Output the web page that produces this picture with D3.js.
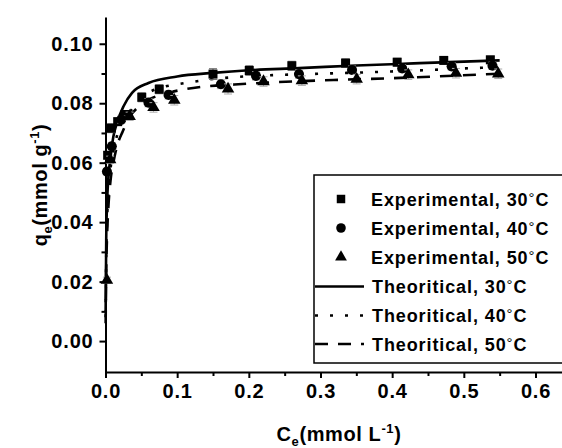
<!DOCTYPE html>
<html>
<head>
<meta charset="utf-8">
<script src="https://cdn.jsdelivr.net/npm/d3@7"></script>
<style>
  body { margin: 0; background: #fff; }
  svg { display: block; }
  text { font-family: "Liberation Sans", Arial, sans-serif; font-weight: bold; fill: #000; }
</style>
</head>
<body>
<script>
// experimental data (Ce in mmol/L, qe in mmol/g)
var exp30C = [0.003, 0.008, 0.017, 0.027, 0.0506, 0.075, 0.150, 0.2006, 0.260, 0.335, 0.407, 0.472, 0.537];
var exp30Q = [0.0625, 0.0716, 0.0738, 0.0762, 0.0820, 0.0847, 0.0898, 0.0910, 0.0926, 0.0935, 0.0938, 0.0944, 0.0946];
var exp30Err = [0.0012, 0.0015, 0.0012, 0.0012, 0.0015, 0.0015, 0.0018, 0.0016, 0.0015, 0.0014, 0.0013, 0.0012, 0.0012];

var exp40C = [0.002, 0.0088, 0.022, 0.060, 0.088, 0.161, 0.210, 0.270, 0.344, 0.414, 0.483, 0.540];
var exp40Q = [0.0570, 0.0655, 0.0745, 0.0802, 0.0828, 0.0864, 0.0892, 0.0898, 0.0912, 0.0917, 0.0924, 0.0926];
var exp40Err = [0.0010, 0.0012, 0.0012, 0.0014, 0.0014, 0.0015, 0.0014, 0.0014, 0.0013, 0.0013, 0.0012, 0.0012];

var exp50C = [0.002, 0.0065, 0.0337, 0.067, 0.096, 0.171, 0.2205, 0.274, 0.3505, 0.4225, 0.489, 0.548];
var exp50Q = [0.0205, 0.0610, 0.0756, 0.0786, 0.0810, 0.0848, 0.0873, 0.0876, 0.0881, 0.0896, 0.0901, 0.0899];
var exp50Err = [0.0010, 0.0012, 0.0014, 0.0016, 0.0016, 0.0017, 0.0016, 0.0016, 0.0016, 0.0016, 0.0016, 0.0016];

// theoretical curves
var th30C = [0.0002, 0.001, 0.002, 0.004, 0.0065, 0.011, 0.016, 0.025, 0.037, 0.06, 0.1, 0.15, 0.2, 0.27, 0.35, 0.43, 0.5, 0.55];
var th30Q = [0.010, 0.034, 0.045, 0.055, 0.061, 0.0688, 0.0734, 0.0789, 0.0835, 0.0868, 0.0890, 0.0902, 0.0911, 0.0918, 0.0927, 0.0934, 0.0940, 0.0944];

var th40C = [0.0002, 0.001, 0.002, 0.004, 0.007, 0.011, 0.016, 0.024, 0.034, 0.045, 0.06, 0.083, 0.104, 0.125, 0.141, 0.181, 0.297, 0.378, 0.453, 0.512, 0.55];
var th40Q = [0.008, 0.028, 0.039, 0.050, 0.058, 0.064, 0.069, 0.0735, 0.077, 0.0805, 0.0835, 0.0856, 0.0865, 0.0873, 0.0879, 0.0888, 0.0899, 0.0905, 0.0912, 0.0918, 0.0921];

var th50C = [0.0002, 0.001, 0.002, 0.004, 0.007, 0.011, 0.016, 0.024, 0.034, 0.047, 0.0645, 0.083, 0.1017, 0.134, 0.18, 0.232, 0.33, 0.397, 0.462, 0.527, 0.55];
var th50Q = [0.006, 0.024, 0.034, 0.045, 0.054, 0.060, 0.0655, 0.0705, 0.0755, 0.0790, 0.0817, 0.0832, 0.0843, 0.0855, 0.0863, 0.0870, 0.0879, 0.0884, 0.0890, 0.0897, 0.0899];

// axis ticks
var xTicks = [0, 0.1, 0.2, 0.3, 0.4, 0.5, 0.6];
var xMinor = [0.05, 0.15, 0.25, 0.35, 0.45, 0.55];
var yTicks = [0, 0.02, 0.04, 0.06, 0.08, 0.10];
var yMinor = [0.01, 0.03, 0.05, 0.07, 0.09];

var legendNames = ["Experimental, ", "Experimental, ", "Experimental, ",
                   "Theoritical, ", "Theoritical, ", "Theoritical, "];
var legendTemps = ["30", "40", "50", "30", "40", "50"];

var width = 562, height = 448;

var svg = d3.select("body").append("svg")
    .attr("width", width)
    .attr("height", height);

var x = d3.scaleLinear().domain([0, 0.637]).range([105.5, 562]);
var y = d3.scaleLinear().domain([-0.0104, 0.109]).range([372, 17]);

// minor ticks first
svg.append("g")
    .attr("transform", "translate(0,372)")
    .call(d3.axisBottom(x).tickValues(xMinor).tickSize(4).tickSizeOuter(0).tickFormat(""))
    .call(function (g) { g.select(".domain").remove(); })
    .selectAll("line").attr("stroke-width", 2);

svg.append("g")
    .attr("transform", "translate(105.5,0)")
    .call(d3.axisLeft(y).tickValues(yMinor).tickSize(4).tickSizeOuter(0).tickFormat(""))
    .call(function (g) { g.select(".domain").remove(); })
    .selectAll("line").attr("stroke-width", 2);

// major axes
var xAxis = svg.append("g")
    .attr("transform", "translate(0,372)")
    .call(d3.axisBottom(x).tickValues(xTicks).tickSize(6).tickSizeOuter(0).tickPadding(6).tickFormat(d3.format(".1f")));
xAxis.select(".domain").attr("stroke-width", 2);
xAxis.selectAll("line").attr("stroke-width", 2);
xAxis.selectAll("text")
    .attr("font-size", 20).attr("letter-spacing", 0.8)
    .attr("font-family", "Liberation Sans, Arial, sans-serif").attr("font-weight", "bold");

var yAxis = svg.append("g")
    .attr("transform", "translate(105.5,0)")
    .call(d3.axisLeft(y).tickValues(yTicks).tickSize(6).tickSizeOuter(0).tickPadding(6).tickFormat(d3.format(".2f")));
yAxis.select(".domain").attr("stroke-width", 2);
yAxis.selectAll("line").attr("stroke-width", 2);
yAxis.selectAll("text")
    .attr("font-size", 20).attr("letter-spacing", 0.8)
    .attr("font-family", "Liberation Sans, Arial, sans-serif").attr("font-weight", "bold");

// axis titles
var xt = svg.append("text")
    .attr("x", 339).attr("y", 441)
    .attr("text-anchor", "middle")
    .attr("font-size", 20).attr("letter-spacing", 0.6);
xt.append("tspan").text("C");
xt.append("tspan").attr("font-size", 13).attr("dy", 5).text("e");
xt.append("tspan").attr("dy", -5).text("(mmol L");
xt.append("tspan").attr("font-size", 13).attr("dy", -8).text("-1");
xt.append("tspan").attr("dy", 8).text(")");

var yt = svg.append("text")
    .attr("transform", "translate(47,185) rotate(-90)")
    .attr("text-anchor", "middle")
    .attr("font-size", 20).attr("letter-spacing", 0.6);
yt.append("tspan").text("q");
yt.append("tspan").attr("font-size", 13).attr("dy", 5).text("e");
yt.append("tspan").attr("dy", -5).text("(mmol g");
yt.append("tspan").attr("font-size", 13).attr("dy", -8).text("-1");
yt.append("tspan").attr("dy", 8).text(")");

// theoretical curves
var lineGen = d3.line()
    .x(function (d) { return x(d[0]); })
    .y(function (d) { return y(d[1]); })
    .curve(d3.curveMonotoneX);

var curves = [
    { c: th30C, q: th30Q, dash: null },
    { c: th40C, q: th40Q, dash: "3,12" },
    { c: th50C, q: th50Q, dash: "13,10" }
];
curves.forEach(function (s) {
    svg.append("path")
        .datum(d3.zip(s.c, s.q))
        .attr("d", lineGen)
        .attr("fill", "none")
        .attr("stroke", "#000")
        .attr("stroke-width", 2.6)
        .attr("stroke-dasharray", s.dash);
});

// experimental points with error bars
var series = [
    { c: exp30C, q: exp30Q, e: exp30Err, sym: d3.symbolSquare, size: 81, errColor: "#666" },
    { c: exp40C, q: exp40Q, e: exp40Err, sym: d3.symbolCircle, size: 80, errColor: "#aaa" },
    { c: exp50C, q: exp50Q, e: exp50Err, sym: d3.symbolTriangle, size: 68, errColor: "#aaa" }
];
series.forEach(function (s) {
    var pts = d3.zip(s.c, s.q, s.e);
    var g = svg.append("g");
    var eb = g.selectAll(".eb").data(pts).enter().append("g");
    eb.append("line")
        .attr("x1", function (d) { return x(d[0]); })
        .attr("x2", function (d) { return x(d[0]); })
        .attr("y1", function (d) { return y(d[1] - d[2]); })
        .attr("y2", function (d) { return y(d[1] + d[2]); })
        .attr("stroke", s.errColor).attr("stroke-width", 1);
    [-1, 1].forEach(function (k) {
        eb.append("line")
            .attr("x1", function (d) { return x(d[0]) - 4; })
            .attr("x2", function (d) { return x(d[0]) + 4; })
            .attr("y1", function (d) { return y(d[1] + k * d[2]); })
            .attr("y2", function (d) { return y(d[1] + k * d[2]); })
            .attr("stroke", s.errColor).attr("stroke-width", 1);
    });
    g.selectAll("path").data(pts).enter().append("path")
        .attr("transform", function (d) { return "translate(" + x(d[0]) + "," + y(d[1]) + ")"; })
        .attr("d", d3.symbol().type(s.sym).size(s.size))
        .attr("fill", "#000");
});

// legend
var lg = svg.append("g");
lg.append("rect")
    .attr("x", 314).attr("y", 175)
    .attr("width", 270).attr("height", 188)
    .attr("fill", "#fff").attr("stroke", "#000").attr("stroke-width", 1.5);

var rowY = [199, 228, 257, 286.5, 315.5, 344];
var legSyms = [d3.symbolSquare, d3.symbolCircle, d3.symbolTriangle];
var legSizes = [72, 72, 60];
var legDash = [null, "3,12", "13,10"];

legendNames.forEach(function (lab, i) {
    if (i < 3) {
        lg.append("path")
            .attr("transform", "translate(341," + rowY[i] + ")")
            .attr("d", d3.symbol().type(legSyms[i]).size(legSizes[i]))
            .attr("fill", "#000");
    } else {
        lg.append("line")
            .attr("x1", 315).attr("x2", 364)
            .attr("y1", rowY[i]).attr("y2", rowY[i])
            .attr("stroke", "#000").attr("stroke-width", 2.6)
            .attr("stroke-dasharray", legDash[i - 3]);
    }
    var t = lg.append("text")
        .attr("x", i < 3 ? 371 : 372).attr("y", rowY[i] + 6.5)
        .attr("font-size", 18).attr("letter-spacing", 0.9);
    t.append("tspan").text(lab + legendTemps[i]);
    t.append("tspan").attr("font-size", 15).attr("font-weight", "normal").attr("dy", -3).text("\u00B0");
    t.append("tspan").attr("dy", 3).text("C");
});
</script>
</body>
</html>
